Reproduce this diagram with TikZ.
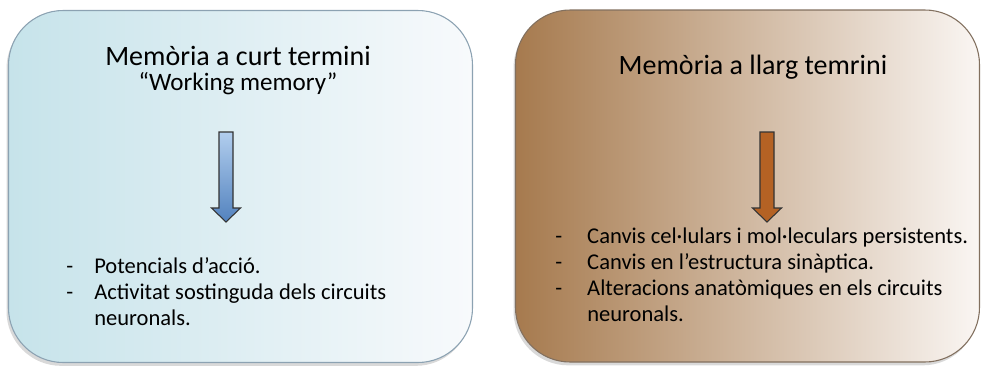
\documentclass[tikz,border=0pt]{standalone}
\usepackage{fontspec}
\setmainfont{Carlito}
\usetikzlibrary{shadows}

\definecolor{stmleft}{RGB}{198,227,234}
\definecolor{stmright}{RGB}{248,250,252}
\definecolor{stmedge}{RGB}{140,162,178}
\definecolor{ltmleft}{RGB}{166,122,78}
\definecolor{ltmright}{RGB}{250,246,243}
\definecolor{ltmedge}{RGB}{130,112,95}
\definecolor{arrtop}{RGB}{178,206,238}
\definecolor{arrbot}{RGB}{82,130,190}
\definecolor{arrbrown}{RGB}{180,98,36}

\begin{document}
\begin{tikzpicture}[x=0.75pt,y=-0.75pt,
  mbox/.style={draw,rounded corners=41pt,minimum width=348pt,minimum height=264pt,
    line width=0.8pt,drop shadow={shadow xshift=-1.5pt,shadow yshift=-2.5pt,opacity=0.3}},
  ttl/.style={font=\fontsize{21}{25}\selectfont,anchor=base},
  subttl/.style={font=\fontsize{18.8}{22}\selectfont,anchor=base},
  list/.style={font=\fontsize{16.9}{19.7}\selectfont,anchor=base west,inner sep=0pt},
  downarrow/.style={draw=black!80,line width=0.8pt,line join=miter}]
  \useasboundingbox (0,0) rectangle (983,365);

  % short term
  \node[mbox,draw=stmedge,left color=stmleft,right color=stmright] (stm) at (240.5,186.5) {};
  \node[ttl] (stmttl) at (238,65) {Memòria a curt termini};
  \node[subttl] (stmsub) at (238,90) {“Working memory”};
  \coordinate (stmtop) at (226,132);
  \draw[downarrow,top color=arrtop,bottom color=arrbot] (stmtop) ++(-7,0) -- ++(0,76) -- ++(-7.5,0)
    -- ++(14.5,14) -- ++(14.5,-14) -- ++(-7.5,0) -- ++(0,-76) -- cycle;
  \node[list] (stmlist) at (66,273) {\begin{tabular}[t]{@{}p{21pt}@{}l@{}}
    - & Potencials d’acció.\\
    - & Activitat sostinguda dels circuits\\
      & neuronals.
  \end{tabular}};

  % long term
  \node[mbox,draw=ltmedge,left color=ltmleft,right color=ltmright] (ltm) at (747.5,186) {};
  \node[ttl] (ltmttl) at (753,74) {Memòria a llarg temrini};
  \coordinate (ltmtop) at (767,132);
  \draw[downarrow,fill=arrbrown] (ltmtop) ++(-7,0) -- ++(0,76) -- ++(-7.5,0)
    -- ++(14.5,14) -- ++(14.5,-14) -- ++(-7.5,0) -- ++(0,-76) -- cycle;
  \node[list] (ltmlist) at (555,243) {\begin{tabular}[t]{@{}p{24pt}@{}l@{}}
    - & Canvis cel·lulars i mol·leculars persistents.\\
    - & Canvis en l’estructura sinàptica.\\
    - & Alteracions anatòmiques en els circuits\\
      & neuronals.
  \end{tabular}};
\end{tikzpicture}
\end{document}
